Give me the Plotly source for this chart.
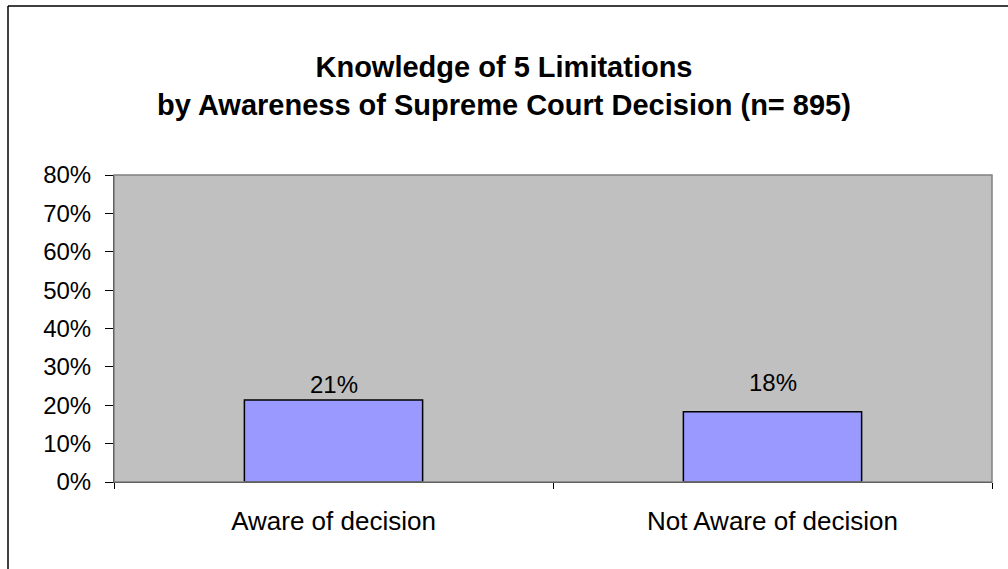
import plotly.graph_objects as go

categories = ["Aware of decision", "Not Aware of decision"]
values = [0.214, 0.183]
labels = ["21%", "18%"]
tick_vals = [0, 0.1, 0.2, 0.3, 0.4, 0.5, 0.6, 0.7, 0.8]
tick_text = ["0%", "10%", "20%", "30%", "40%", "50%", "60%", "70%", "80%"]

label_shift_px = [15, 29]

font = "Liberation Sans, Arial, sans-serif"

W, H = 1008, 569
L, R, T, B = 114, 16, 175, 87
PW, PH = W - L - R, H - T - B

def px_x(x):
    return (x - L) / PW

def px_y(y):
    return (H - B - y) / PH

fig = go.Figure(go.Bar(
    x=categories, y=values,
    marker=dict(color="#9999FF", line=dict(color="black", width=1.5)),
    width=0.406,
))

for c, v, t, s in zip(categories, values, labels, label_shift_px):
    fig.add_annotation(x=c, y=v, text=t, showarrow=False, yanchor="middle",
                       yshift=s, font=dict(size=24, family=font, color="black"))

fig.update_layout(
    width=W, height=H,
    margin=dict(l=L, r=R, t=T, b=B),
    paper_bgcolor="white", plot_bgcolor="#C0C0C0",
    showlegend=False,
    title=dict(text="<b>Knowledge of 5 Limitations<br>by Awareness of Supreme Court Decision (n= 895)</b>",
               x=0.5, xanchor="center", y=1 - 77 / H, yanchor="middle",
               font=dict(size=29, family=font, color="black")),
    font=dict(family=font, color="black"),
    shapes=[
        dict(type="rect", xref="paper", yref="paper", x0=0, x1=1, y0=0, y1=1,
             line=dict(color="#808080", width=1.5), layer="above"),
        dict(type="line", xref="paper", yref="paper", x0=px_x(8), x1=px_x(8),
             y0=px_y(H + 10), y1=px_y(6), line=dict(color="black", width=1.5)),
        dict(type="line", xref="paper", yref="paper", x0=px_x(8), x1=px_x(W + 10),
             y0=px_y(6), y1=px_y(6), line=dict(color="black", width=1.5)),
    ],
)

fig.update_xaxes(
    showline=True, linecolor="black", linewidth=1,
    ticks="outside", ticklen=6, tickcolor="black", tickson="boundaries",
    tickfont=dict(size=26, family=font, color="black"),
    ticklabelstandoff=16,
)
fig.update_yaxes(
    range=[0, 0.8], tickvals=tick_vals, ticktext=tick_text,
    showline=True, linecolor="black", linewidth=1,
    ticks="outside", ticklen=8, tickcolor="black",
    showgrid=False, zeroline=False,
    tickfont=dict(size=24, family=font, color="black"),
    ticklabelstandoff=9,
)

fig.write_html("out.html", config={"displayModeBar": False},
               post_script="document.body.style.margin='0px';")
